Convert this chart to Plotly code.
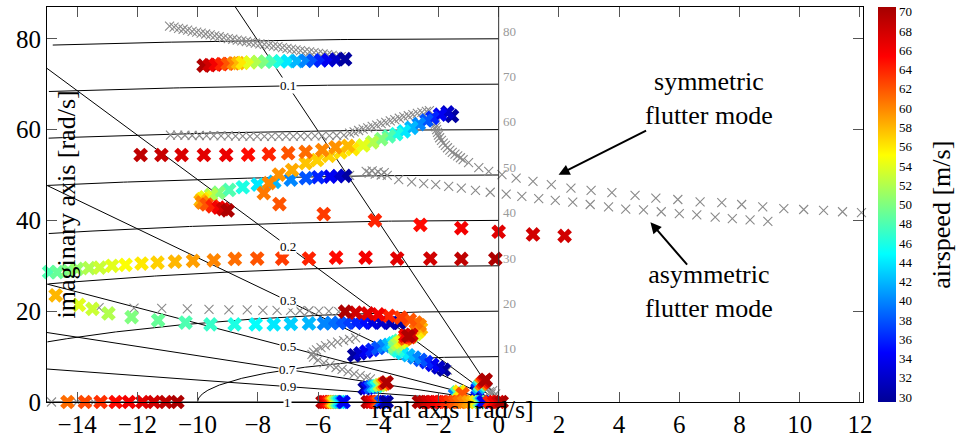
import numpy as np
import plotly.graph_objects as go

FONT = "Liberation Serif"
GRAY = "#8a8a8a"

# ---------------- axis / grid definitions ----------------
X_MIN, X_MAX, Y_MIN, Y_MAX = -15, 12.1, 0, 87
x_ticks = [-14, -12, -10, -8, -6, -4, -2, 0, 2, 4, 6, 8, 10, 12]
y_ticks = [0, 20, 40, 60, 80]
wn_circles = [10, 20, 30, 40, 50, 60, 70, 80]
zeta_lines = [0.1, 0.2, 0.3, 0.5, 0.7, 0.9, 1.0]
zeta_labels = ["0.1", "0.2", "0.3", "0.5", "0.7", "0.9", "1"]
cbar_ticks = list(range(30, 71, 2))

# ---------------- coloured tracks (x, y, airspeed) ----------------
c1_x = [-9.8, -9.6, -9.4, -9.2, -9.0, -8.8, -8.65, -8.5, -8.25, -8.0, -7.75, -7.5, -7.25, -7.0, -6.7, -6.4, -6.15, -5.9, -5.65, -5.4, -5.1]
c1_y = [74.1, 74.2, 74.3, 74.4, 74.5, 74.6, 74.65, 74.7, 74.8, 74.9, 74.95, 75.0, 75.0, 75.05, 75.1, 75.15, 75.2, 75.25, 75.3, 75.4, 75.5]
c1_v = [70, 68, 66, 64, 62, 60, 58, 56, 54, 52, 50, 48, 46, 44, 42, 40, 38, 36, 34, 32, 30]

c2_x = [-5.1, -5.35, -5.6, -6.0, -6.4, -6.9, -7.45, -8.0, -8.5, -8.95, -9.3, -9.55, -9.75, -9.85, -9.9, -9.85, -9.7, -9.5, -9.3, -9.15, -9.0]
c2_y = [49.8, 49.75, 49.65, 49.5, 49.3, 49.0, 48.5, 47.9, 47.3, 46.7, 46.1, 45.6, 45.1, 44.7, 44.3, 43.9, 43.5, 43.1, 42.8, 42.5, 42.2]
c2_v = [30, 32, 34, 36, 38, 40, 42, 44, 46, 48, 50, 52, 54, 56, 58, 60, 62, 64, 66, 68, 70]

c3_x = [-1.55, -1.7, -1.95, -2.2, -2.4, -2.65, -2.9, -3.15, -3.4, -3.65, -3.9, -4.2, -4.5, -4.85,
        -5.25, -5.64, -6.03, -6.41, -6.86, -7.3, -7.63, -7.8, -7.28, -5.81, -4.11, -2.6, -1.24, 0.0, 1.14, 2.19]
c3_y = [63.0, 63.8, 63.3, 62.6, 62.0, 61.2, 60.4, 59.6, 59.0, 58.5, 57.9, 57.2, 56.5, 55.7,
        55.0, 54.2, 53.3, 52.6, 51.1, 50.1, 48.2, 46.0, 43.6, 41.4, 40.0, 39.0, 38.3, 37.5, 36.9, 36.6]
c3_v = [30, 32, 34, 36, 38, 40, 42, 44, 46, 48, 50, 52, 54, 56,
        56.5, 57, 57, 57.5, 58.5, 59.5, 60, 60.5, 62, 63, 64, 65, 66, 67, 68, 68]

c4_x = [-11.89, -11.2, -10.53, -9.79, -9.05, -8.32, -7.63, -6.99, -6.41, -5.86, -5.42, -5.0]
c4_y = [54.4, 54.4, 54.4, 54.4, 54.4, 54.5, 54.6, 54.8, 55.1, 55.5, 56.1, 56.4]
c4_v = [69, 68.5, 67.5, 67, 66.5, 65, 64, 62, 61, 60, 59.5, 58]

c5_x = [-14.93, -14.66, -14.3, -14.0, -13.6, -13.25, -12.84, -12.39, -11.86, -11.33, -10.75, -10.15, -9.46, -8.76, -8.02, -7.19, -6.3, -5.4, -4.42, -3.37, -2.27, -1.24, -0.11]
c5_y = [28.6, 28.6, 28.9, 29.3, 29.5, 29.6, 30.0, 30.2, 30.5, 30.7, 30.9, 31.1, 31.2, 31.5, 31.6, 31.6, 31.6, 31.8, 31.8, 31.6, 31.6, 31.5, 31.5]
c5_v = [48, 49, 50, 51, 52, 53, 54, 55, 56, 57, 58, 59, 60, 61, 62, 63, 64, 65, 66, 67, 68, 69, 70]

c6_x = [-3.3, -3.6, -3.9, -4.2, -4.5, -4.75, -5.05, -5.3, -5.55, -5.8, -6.3, -6.9, -7.47, -8.07, -8.77, -9.57, -10.4, -11.31, -12.19, -12.96, -13.49, -13.94, -14.71]
c6_y = [17.4, 17.4, 17.5, 17.5, 17.5, 17.5, 17.5, 17.4, 17.4, 17.3, 17.3, 17.2, 17.1, 17.1, 17.1, 17.1, 17.5, 18.0, 18.7, 19.5, 20.5, 21.4, 23.5]
c6_v = [30, 31, 32, 33, 35, 36, 37, 38, 39, 40, 42, 43, 44, 45, 46, 47, 48, 49, 50, 52, 53, 54, 58]

sa_x = [-4.8, -4.6, -4.4, -4.2, -4.0, -3.8, -3.65, -3.5, -3.4, -3.3, -3.1, -2.9, -2.75, -2.65, -2.58, -2.62, -2.75, -2.95, -3.25, -3.65, -4.0, -4.35, -4.75, -5.1]
sa_y = [10.3, 10.7, 11.1, 11.5, 11.9, 12.3, 12.6, 12.9, 13.2, 13.5, 13.9, 14.4, 15.0, 15.6, 16.2, 16.9, 17.5, 18.1, 18.6, 19.0, 19.3, 19.5, 19.7, 19.9]
sa_v = [30, 32, 34, 36, 38, 40, 42, 44, 46, 48, 50, 52, 54, 56, 58, 60, 61, 62, 63, 64, 66, 67, 68, 70]

sb_x = [-1.82, -2.0, -2.2, -2.4, -2.6, -2.8, -3.0, -3.2, -3.35, -3.45, -3.45, -3.35, -3.25, -3.15, -3.1, -3.05, -3.1, -2.95, -3.1, -2.9, -3.0]
sb_y = [7.1, 7.6, 8.2, 8.8, 9.3, 9.8, 10.3, 10.8, 11.3, 11.8, 12.3, 12.8, 13.2, 13.6, 13.9, 14.1, 14.0, 14.3, 14.6, 14.8, 14.5]
sb_v = [30, 32, 34, 36, 38, 40, 42, 44, 46, 48, 50, 52, 54, 56, 58, 60, 62, 64, 66, 68, 70]

n1_x = [-0.72, -0.7, -0.66, -0.62, -0.57, -0.52, -0.47, -0.43]
n1_y = [2.4, 2.9, 3.3, 3.7, 4.0, 4.3, 4.6, 4.9]
n1_v = [30, 36, 42, 48, 60, 64, 68, 70]

n2_x = [-1.45, -1.38, -1.3, -1.2]
n2_y = [1.6, 2.1, 2.3, 1.8]
n2_v = [40, 48, 56, 62]

n3_x = [-2.65, -2.5, -2.35, -2.2, -2.05, -1.9, -1.75, -1.6, -1.45, -1.3, -1.15, -1.0, -0.87, -0.75, -0.64, -0.56, -0.5]
n3_y = [0.0] * 17
n3_v = [70, 69, 68, 67, 66, 65, 64, 63, 62, 61, 60, 59, 58, 56, 50, 42, 34]

n4_x = [-0.3, -0.15, 0.0, 0.1]
n4_y = [0.0, 0.0, 0.0, 0.0]
n4_v = [64, 66, 68, 70]

n5_x = [-4.45, -4.35, -4.25, -4.15, -4.05, -3.95, -3.85, -3.78, -3.72]
n5_y = [3.0, 3.1, 3.3, 3.4, 3.5, 3.7, 3.9, 4.1, 4.3]
n5_v = [30, 34, 38, 42, 46, 52, 58, 64, 70]

n6_x = [-4.35, -4.25, -4.15, -4.05, -3.98, -3.9, -3.8, -3.72]
n6_y = [0.0] * 8
n6_v = [70, 68, 66, 64, 62, 38, 34, 30]

n7_x = [-5.85, -5.78, -5.7, -5.62, -5.55, -5.48, -5.42, -5.35, -5.28, -5.2, -5.15]
n7_y = [0.0] * 11
n7_v = [70, 68, 66, 64, 60, 56, 52, 48, 44, 40, 34]

c8_x = [-14.32, -13.74, -13.22, -12.72, -12.28, -11.83, -11.45, -11.06, -10.67]
c8_y = [0.0] * 9
c8_v = [61, 62.5, 63.5, 65, 66, 67, 68, 69, 70]

# ---------------- grey (reference) tracks ----------------
g1_x = [-10.93, -10.78, -10.63, -10.48, -10.33, -10.18, -10.03, -9.88, -9.73, -9.58, -9.43, -9.28, -9.13, -8.98, -8.83, -8.68, -8.53, -8.38, -8.23, -8.08,
        -7.93, -7.78, -7.63, -7.48, -7.33, -7.18, -7.03, -6.88, -6.73, -6.58, -6.43, -6.28, -6.13, -5.98, -5.83, -5.68, -5.53, -5.38, -5.23, -5.08]
g1_y = [82.8, 82.55, 82.3, 82.1, 81.9, 81.65, 81.45, 81.25, 81.05, 80.85, 80.65, 80.45, 80.25, 80.05, 79.9, 79.7, 79.55, 79.4, 79.2, 79.05,
        78.9, 78.75, 78.6, 78.4, 78.25, 78.05, 77.9, 77.7, 77.55, 77.4, 77.25, 77.1, 76.95, 76.8, 76.65, 76.5, 76.35, 76.2, 76.05, 75.9]

g2_x = [-10.9, -10.66, -10.42, -10.18, -9.94, -9.7, -9.46, -9.22, -8.98, -8.74, -8.5, -8.26, -8.02, -7.78, -7.54, -7.3, -7.06, -6.82, -6.58, -6.34, -6.1, -5.86, -5.62, -5.38, -5.14,
        -4.95, -4.8, -4.65, -4.5, -4.35, -4.2, -4.05, -3.9, -3.75, -3.6, -3.45, -3.3, -3.15, -3.0, -2.85, -2.7, -2.55, -2.4, -2.3]
g2_y = [58.8, 58.8, 58.75, 58.7, 58.7, 58.65, 58.65, 58.6, 58.6, 58.55, 58.55, 58.5, 58.5, 58.5, 58.5, 58.5, 58.5, 58.5, 58.55, 58.55, 58.6, 58.6, 58.65, 58.7, 58.8,
        59.2, 59.5, 59.8, 60.1, 60.4, 60.7, 61.0, 61.3, 61.6, 61.9, 62.2, 62.5, 62.8, 63.05, 63.3, 63.55, 63.8, 64.0, 64.2]

g3_x = [-2.1, -2.08, -2.06, -2.03, -2.0, -1.96, -1.9, -1.84, -1.77, -1.7, -1.62, -1.54, -1.45, -1.36, -1.27, -1.18, -1.0, -0.66]
g3_y = [61.2, 60.6, 60.0, 59.4, 58.8, 58.2, 57.6, 57.0, 56.5, 56.0, 55.5, 55.0, 54.6, 54.2, 53.8, 53.4, 52.7, 51.6]

sym_x = [-0.33, 0.11, 0.58, 1.14, 1.75, 2.40, 3.07, 3.76, 4.53, 5.22, 5.95, 6.69, 7.41, 8.07, 8.77, 9.47, 10.13, 10.79, 11.42, 12.05]
sym_y = [50.8, 50.1, 49.3, 48.6, 47.9, 47.1, 46.6, 46.1, 45.5, 44.9, 44.6, 44.1, 43.9, 43.5, 43.0, 42.6, 42.4, 42.2, 41.9, 41.7]

asym_x = [-4.4, -4.3, -4.2, -4.1, -4.0, -3.9, -3.8, -3.7, -3.32, -2.89, -2.49, -2.09, -1.66, -1.24, -0.77, -0.28, 0.25, 0.77, 1.33, 1.88,
          2.46, 3.04, 3.65, 4.22, 4.81, 5.40, 6.0, 6.58, 7.19, 7.76, 8.35, 8.94]
asym_y = [50.8, 50.4, 50.9, 50.2, 50.7, 50.0, 50.5, 49.9, 49.0, 48.5, 48.1, 47.9, 47.5, 47.1, 46.6, 46.2, 45.8, 45.3, 44.8, 44.4,
          44.0, 43.5, 43.0, 42.5, 42.3, 41.9, 41.5, 41.2, 40.7, 40.4, 40.1, 39.8]

g5_x = [-13.27, -12.11, -11.19, -10.34, -9.62, -8.96, -8.35, -7.83, -7.36, -6.91, -6.6, -6.3, -5.97, -5.64, -5.31]
g5_y = [20.8, 20.7, 20.6, 20.5, 20.4, 20.3, 20.3, 20.2, 20.2, 20.2, 20.1, 20.1, 20.0, 20.0, 19.9]

g6_x = [-4.75, -4.95, -5.15, -5.35, -5.55, -5.75, -5.9, -6.05, -6.15, -6.2, -6.15, -6.0, -5.8, -5.6, -5.4, -5.2, -5.0, -4.8, -4.6, -4.4, -4.26]
g6_y = [14.1, 13.8, 13.5, 13.2, 12.8, 12.4, 12.0, 11.5, 11.0, 10.5, 9.9, 9.2, 8.6, 8.1, 7.6, 7.2, 6.7, 6.2, 5.8, 5.4, 5.1]

g7_x = [-0.15, -0.25, -0.3, -0.4, -0.5, -0.35, -0.2, -0.1, -14.85, -14.0, -13.45, -1.8, -1.7, -4.85, -4.95]
g7_y = [1.3, 1.8, 2.3, 2.8, 3.3, 3.0, 2.5, 1.8, 0.0, 0.0, 0.0, 7.3, 7.0, 10.2, 49.9]

JET = [[0.0, "rgb(0,0,150)"], [0.125, "rgb(0,0,255)"], [0.375, "rgb(0,255,255)"],
       [0.625, "rgb(255,255,0)"], [0.875, "rgb(255,0,0)"], [1.0, "rgb(165,0,0)"]]

fig = go.Figure()

# constant natural-frequency arcs
for r in wn_circles:
    th = np.linspace(np.pi / 2, np.pi, 600)
    xs, ys = r * np.cos(th), r * np.sin(th)
    m = xs >= X_MIN
    fig.add_trace(go.Scatter(x=xs[m], y=ys[m], mode="lines", line=dict(color="black", width=1),
                             hoverinfo="skip", showlegend=False))
# constant damping rays
for z in zeta_lines:
    s = np.sqrt(1 - z * z) / z
    if s == 0:
        xe, ye = X_MIN, 0.0
    else:
        xe = max(X_MIN, -Y_MAX / s)
        ye = -xe * s
    fig.add_trace(go.Scatter(x=[0, xe], y=[0, ye], mode="lines", line=dict(color="black", width=1),
                             hoverinfo="skip", showlegend=False))

def grey(x, y, size=9):
    fig.add_trace(go.Scatter(x=x, y=y, mode="markers", cliponaxis=False, showlegend=False,
                             marker=dict(symbol="x-thin", size=size, color=GRAY,
                                         line=dict(color=GRAY, width=1.1))))

def coloured(x, y, v, size=13):
    fig.add_trace(go.Scatter(x=x, y=y, mode="markers", cliponaxis=False, showlegend=False,
                             marker=dict(symbol="x", size=size, color=v, coloraxis="coloraxis",
                                         line=dict(width=0))))

for gx, gy in [(g1_x, g1_y), (g2_x, g2_y), (g3_x, g3_y), (sym_x, sym_y), (asym_x, asym_y),
               (g5_x, g5_y), (g6_x, g6_y), (g7_x, g7_y)]:
    grey(gx, gy)

for cx, cy, cv in [(c1_x, c1_y, c1_v), (c2_x, c2_y, c2_v), (c3_x, c3_y, c3_v), (c4_x, c4_y, c4_v),
                   (c5_x, c5_y, c5_v), (c6_x, c6_y, c6_v), (sa_x, sa_y, sa_v), (sb_x, sb_y, sb_v),
                   (n1_x, n1_y, n1_v), (n2_x, n2_y, n2_v), (n3_x, n3_y, n3_v), (n4_x, n4_y, n4_v),
                   (n5_x, n5_y, n5_v), (n6_x, n6_y, n6_v), (n7_x, n7_y, n7_v), (c8_x, c8_y, c8_v)]:
    coloured(cx, cy, cv)

annotations = []
# damping labels
for z, lab in zip(zeta_lines, zeta_labels):
    s = np.sqrt(1 - z * z) / z
    annotations.append(dict(x=-7.0, y=7.0 * s, text=lab, showarrow=False, bgcolor="white",
                            borderpad=0, xanchor="center", yanchor="middle",
                            font=dict(family=FONT, size=13, color="black")))
# natural-frequency labels
for r in wn_circles:
    annotations.append(dict(x=0.08, y=r + 1.7, text=str(r), showarrow=False, xanchor="left",
                            yanchor="middle", font=dict(family=FONT, size=13, color="#9a9a9a")))
# axis titles (placed inside as in the reference)
annotations.append(dict(xref="paper", yref="paper", x=0.0245, y=0.5, text="imaginary axis [rad/s]",
                        textangle=-90, showarrow=False, xanchor="center", yanchor="middle",
                        font=dict(family=FONT, size=26, color="black")))
annotations.append(dict(xref="paper", yref="paper", x=0.4975, y=-0.018, text="real axis [rad/s]",
                        showarrow=False, xanchor="center", yanchor="middle",
                        font=dict(family=FONT, size=26, color="black")))
annotations.append(dict(xref="paper", yref="paper", x=1.096, y=0.475, text="airspeed [m/s]",
                        textangle=-90, showarrow=False, xanchor="center", yanchor="middle",
                        font=dict(family=FONT, size=26, color="black")))
# flutter-mode callouts
annotations.append(dict(x=7.0, y=66.9, text="symmetric<br>flutter mode", showarrow=False,
                        xanchor="center", yanchor="middle", font=dict(family=FONT, size=26, color="black")))
annotations.append(dict(x=7.0, y=24.3, text="asymmetric<br>flutter mode", showarrow=False,
                        xanchor="center", yanchor="middle", font=dict(family=FONT, size=26, color="black")))
annotations.append(dict(x=1.99, y=50.05, text="", showarrow=True, ax=89, ay=-45,
                        arrowhead=2, arrowsize=1.1, arrowwidth=2, arrowcolor="black"))
annotations.append(dict(x=5.04, y=39.6, text="", showarrow=True, ax=38, ay=44,
                        arrowhead=2, arrowsize=1.1, arrowwidth=2, arrowcolor="black"))

fig.update_layout(
    width=971, height=444,
    margin=dict(l=47, r=108, t=6, b=40),
    paper_bgcolor="white", plot_bgcolor="white",
    font=dict(family=FONT, color="black"),
    xaxis=dict(range=[X_MIN, X_MAX], tickvals=x_ticks, ticks="inside", ticklen=10, tickcolor="#555",
               showline=True, linecolor="black", linewidth=1, mirror="ticks", showgrid=False,
               zeroline=False, tickfont=dict(family=FONT, size=25)),
    yaxis=dict(range=[Y_MIN, Y_MAX], tickvals=y_ticks, ticks="inside", ticklen=10, tickcolor="#555",
               showline=True, linecolor="black", linewidth=1, mirror="ticks", showgrid=False,
               zeroline=False, tickfont=dict(family=FONT, size=25)),
    coloraxis=dict(colorscale=JET, cmin=29.5, cmax=70.5,
                   colorbar=dict(x=1.018, xanchor="left", xpad=0, ypad=0, y=0, yanchor="bottom",
                                 len=1, lenmode="fraction", thickness=18, tickvals=cbar_ticks,
                                 ticks="", outlinewidth=0,
                                 tickfont=dict(family=FONT, size=13, color="black"))),
    shapes=[dict(type="line", xref="x", yref="y", x0=0, x1=0, y0=Y_MIN, y1=Y_MAX,
                 line=dict(color="#333", width=1))],
    annotations=annotations,
)

fig.write_html("out.html")
